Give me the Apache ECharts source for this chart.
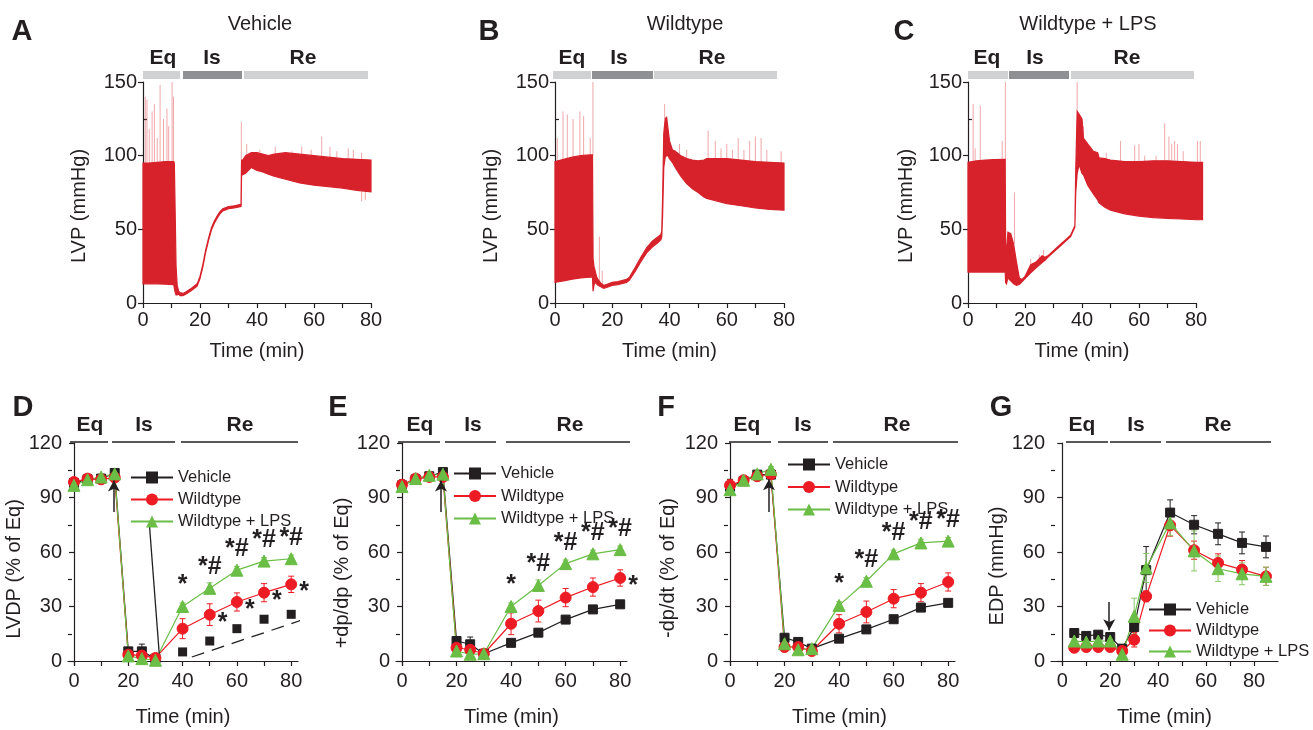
<!DOCTYPE html>
<html>
<head>
<meta charset="utf-8">
<title>LVP traces and recovery</title>
<script src="https://cdn.jsdelivr.net/npm/echarts@6.0.0/dist/echarts.min.js"></script>
<style>
  html, body { margin: 0; padding: 0; background: #fff; }
  #chart { width: 1313px; height: 730px; }
</style>
</head>
<body>
<div id="chart"></div>
<script>
// ---- LVP traces (A-C): [time, lower envelope, upper envelope]
const traceA = [
  [0, 13, 95], [2, 13, 95], [5, 13, 95.5], [8, 12.8, 96], [10.8, 12.5, 96], [11.0, 10, 95],
  [11.3, 7, 60], [11.6, 5.5, 25], [12, 5.5, 12], [12.5, 6, 8], [13, 5, 7], [14, 5, 6.5],
  [15, 6, 7.5], [17, 8.5, 10], [19, 11.5, 13], [20, 16.5, 18], [21, 24.5, 26], [22, 34.5, 36],
  [23, 42.5, 44], [24, 49.5, 51], [25, 54, 55.5], [26, 57.5, 59], [27, 60.5, 62], [28, 62.5, 64],
  [30, 64, 65.5], [32, 64.5, 66], [34.4, 65.5, 67], [34.6, 88, 97], [35, 87, 97], [36, 88, 100],
  [38, 92, 102], [40, 90, 102], [42, 89, 101], [44, 87.5, 100], [46, 86, 101], [50, 84, 102],
  [55, 81.5, 101], [60, 80, 100], [65, 79, 99], [70, 78, 98], [75, 76.5, 97.5], [80, 75.5, 97]
];
const traceB = [
  [0, 14, 96], [3, 15, 97.5], [6, 16.2, 99], [9, 17, 100], [12, 17.5, 100.5], [13.1, 17.5, 100.5],
  [13.3, 8, 30], [13.6, 12, 25], [14, 14, 22], [14.5, 13, 18], [15, 12, 16], [16, 11, 13.5],
  [17, 10, 12], [18, 10.5, 12.5], [20, 12, 14], [22, 12.5, 14.5], [24, 13.5, 15.5], [25, 14, 16],
  [26, 15.5, 17.5], [28, 21.5, 24], [30, 28, 31], [32, 34, 37.5], [34, 38, 42], [36, 41, 45],
  [37, 43, 46.5], [37.3, 45, 49], [37.6, 60, 72], [38, 92, 115], [38.5, 99, 125], [39, 100, 126],
  [39.5, 100, 118], [40, 98, 110], [41, 95.5, 104], [42, 92, 103], [44, 86, 100], [46, 81, 98],
  [48, 77.5, 97], [50, 75, 96.5], [52, 72, 97], [53, 71, 98], [55, 70, 98], [60, 67.5, 98],
  [65, 66, 97], [70, 64.5, 96], [75, 63.5, 95.5], [80, 63, 95]
];
const traceC = [
  [0, 21, 95.5], [3, 21, 96.5], [6, 21, 97], [9, 21, 97.3], [12.8, 21, 97.5], [13.05, 21, 97.5],
  [13.2, 14, 40], [13.5, 13, 35], [14, 17, 48], [15, 15, 47], [16, 13, 40], [17, 12, 28],
  [18, 12.5, 17], [19, 14.5, 16], [20, 16.5, 18], [22, 20.5, 26], [24, 24, 28], [26, 27.5, 32],
  [27, 29, 31], [28, 31, 32], [30, 34.5, 35.5], [32, 38, 39], [34, 41.5, 42.5], [36, 45, 46],
  [37.5, 51.5, 52.5], [37.8, 75, 90], [38.3, 88, 130], [39, 94, 128], [40, 88, 125], [40.5, 87, 112],
  [42, 80, 108], [44, 74, 103], [45.5, 70, 102], [46, 68, 98.5], [48, 65, 98], [50, 63, 97],
  [55, 60.5, 96], [60, 59, 96], [65, 58, 96.5], [70, 57.5, 96.5], [75, 57, 96], [80, 56.5, 95.5],
  [82.3, 56.5, 95.5]
];
// single beats that stick out of the band: [time, from, to]
const spikesA = [
  [0.8, 95, 140], [1.4, 95, 138], [2.2, 95, 118], [3.2, 95, 130], [4, 95, 135], [5, 95, 112],
  [6, 95, 148], [7.2, 95, 125], [8.4, 96, 132], [9, 96, 120], [10.2, 96, 150], [10.7, 96, 140],
  [34.5, 66, 123], [36.4, 100, 108], [41, 102, 104], [46.4, 101, 106], [52.2, 102, 103],
  [55.7, 101, 106], [59, 100, 104], [62.7, 100, 113], [65.6, 99, 106], [68, 98, 103],
  [72, 98, 105], [73.8, 97.5, 104], [76.7, 97.5, 102], [76.7, 76, 69], [78, 76, 70]
];
const spikesB = [
  [0.8, 96, 112], [2.8, 97, 130], [4.3, 98, 128], [6.3, 99, 125], [8.7, 100, 130], [10, 100, 127],
  [12.3, 100.5, 112], [13.25, 100, 150], [15.5, 14, 45], [16.5, 12, 22], [38.3, 125, 135],
  [43.5, 101, 108], [46, 98, 104], [53.5, 98, 117], [56, 98, 110], [58, 98, 105], [60, 98, 108],
  [62, 98, 104], [64, 97, 112], [66, 97, 104], [68, 96.5, 110], [70, 96, 113], [72, 96, 112],
  [74, 95.5, 104], [79, 95, 103]
];
const spikesC = [
  [1.8, 96, 135], [2.5, 96, 105], [4.3, 96.5, 134], [12, 97.5, 110], [13.1, 97.5, 150],
  [16.3, 40, 75], [22, 26, 30], [25, 30, 33], [26.5, 31, 36], [38.3, 130, 150], [40.5, 112, 120],
  [48.5, 98, 102], [53.5, 96, 110], [58.5, 96, 107], [60, 96, 108], [62, 96, 100], [66, 96.5, 100],
  [69, 96.5, 122], [70.5, 96.5, 113], [71.5, 96.5, 108], [72.5, 96.5, 110], [73.5, 96.5, 108],
  [75.5, 96, 103], [80.5, 95.5, 110], [81.5, 95.5, 110]
];

// ---- D-F: percent of Eq, sampled at these minutes
const timeDEF = [0, 5, 10, 15, 20, 25, 30, 40, 50, 60, 70, 80];

const lvdpVeh = [98, 100, 100.4, 103.5, 5.3, 5.3, 1.3, 5, 11, 17.8, 23, 25.7];
const lvdpVehErr = [3, 1, 1.5, 1.5, 2, 4, 1, 1, 1, 1, 1, 1];
const lvdpWt = [98.5, 100.4, 100, 101, 3.5, 3, 1.7, 17.8, 25.5, 32.5, 37.6, 42.2];
const lvdpWtErr = [2, 1.5, 1.5, 2, 2, 2, 1.5, 5.5, 6, 5, 5, 4.5];
const lvdpLps = [96.7, 99.8, 101.3, 103, 2.8, 1.3, 0.4, 30, 40, 50, 55, 56.3];
const lvdpLpsErr = [2, 1.5, 1.5, 1.5, 2, 2, 1.5, 2, 3, 2, 2, 2];
const lvdpLpsSig = ['', '', '', '', '', '', '', '*', '*#', '*#', '*#', '*#'];
const lvdpWtSig = ['', '', '', '', '', '', '', '', '*', '*', '*', '*'];

const pdpVeh = [96.7, 100, 101.7, 104, 11, 9.2, 4, 10, 15.6, 22.8, 28.4, 31.2];
const pdpVehErr = [3, 1, 1, 1, 2, 4, 1, 1, 1, 1, 1, 1];
const pdpWt = [97, 100.4, 101.3, 101.3, 7.3, 6.2, 4, 20.5, 27.5, 34.9, 40.7, 45.7];
const pdpWtErr = [2, 1.5, 1.5, 2, 2, 2, 1.5, 6, 6, 5, 5, 4.5];
const pdpLps = [96, 100.4, 102.2, 102.8, 5.5, 3.7, 4, 30, 41.6, 53.6, 59, 61.3];
const pdpLpsErr = [2, 1.5, 1.5, 1.5, 2, 2, 1.5, 2, 3, 2, 2, 2];
const pdpLpsSig = ['', '', '', '', '', '', '', '*', '*#', '*#', '*#', '*#'];
const pdpWtSig = ['', '', '', '', '', '', '', '', '', '', '', '*'];

const ndpVeh = [96, 99, 102.6, 102.6, 12.8, 10.5, 6.8, 12.3, 17.4, 23, 29.4, 32];
const ndpVehErr = [4, 1, 1, 1, 2, 2, 1, 1, 1, 1, 1, 1];
const ndpWt = [96.7, 99.5, 101.7, 102.8, 7.7, 7.7, 5.5, 20.5, 27, 34.3, 37.6, 43.5];
const ndpWtErr = [3, 1.5, 1.5, 2, 2, 2, 1.5, 5, 6, 5, 5, 5];
const ndpLps = [94.3, 99.5, 103, 105.5, 9.5, 6.2, 6.8, 30.6, 43.9, 59, 65, 66];
const ndpLpsErr = [2, 1.5, 1.5, 1.5, 2, 2, 1.5, 2, 2, 2, 2, 2];
const ndpLpsSig = ['', '', '', '', '', '', '', '*', '*#', '*#', '*#', '*#'];

// ---- G: EDP in mmHg
const timeG = [5, 10, 15, 20, 25, 30, 35, 45, 55, 65, 75, 85];
const edpVeh = [15.4, 13.8, 14.5, 13.2, 6.8, 18.7, 50, 81.7, 75, 70, 65, 62.8];
const edpVehErr = [1.5, 1.5, 1.5, 1.5, 2, 4, 13, 7, 5, 6, 6, 6];
const edpWt = [7.3, 7.7, 7.7, 7.7, 5.5, 11.7, 35.6, 74.7, 61, 54, 50.3, 46.6];
const edpWtErr = [1.5, 1.5, 1.5, 1.5, 2, 4, 3, 6, 5, 5, 5, 5];
const edpLps = [11, 10.5, 11, 11, 3.7, 24.6, 51.2, 76, 60.6, 50.8, 48, 46.6];
const edpLpsErr = [1.5, 1.5, 1.5, 1.5, 3, 10, 8, 7, 11, 7, 6, 5];

// perfusion-stop arrows [[x, from], [x, to]] and the stray strokes in D
const arrowD = [[14.7, 82], [14.7, 99.4]];
const arrowE = [[14.3, 82], [14.3, 99.4]];
const arrowF = [[14.3, 82], [14.3, 100]];
const arrowG = [[19.6, 32.5], [19.6, 16.9]];
const strayD1 = [[27.8, 74.7], [31.4, 4]];
const strayD2 = [[43.4, 2.2], [88.8, 25]];

const groupNames = ['Vehicle', 'Wildtype', 'Wildtype + LPS'];

// ------------------------------------------------------------------
const FONT = 'Liberation Sans, Arial, sans-serif';
const INK = '#231f20';
const TRACE = '#d7222b';
const SPIKE = 'rgba(222, 60, 66, 0.45)';
const VEH = '#231f20', WT = '#ed1c24', LPS = '#6abd45';

const chart = echarts.init(document.getElementById('chart'), null, { renderer: 'canvas' });

const grids = [
  { left: 143, top: 82, width: 228, height: 221 },
  { left: 555, top: 82, width: 229, height: 221 },
  { left: 968, top: 82, width: 228, height: 221 },
  { left: 68, top: 443, width: 230, height: 222 },
  { left: 396, top: 443, width: 231, height: 222 },
  { left: 724, top: 443, width: 231, height: 222 },
  { left: 1051, top: 443, width: 227, height: 222 }
];
const xRange = [[0, 80], [0, 80], [0, 80], [-2.2, 82.5], [-2.2, 82.5], [-2.2, 82.5], [-4.7, 90]];
const yNames = ['LVP (mmHg)', 'LVP (mmHg)', 'LVP (mmHg)', 'LVDP (% of Eq)', '+dp/dp (% of Eq)', '-dp/dt (% of Eq)', 'EDP (mmHg)'];
const yNameGap = [54, 54, 52, 35, 42, 46, 42];
const yNameShift = [27, 27, 27, 30, 38, 28, 24];

const xTicks = [0, 10, 20, 30, 40, 50, 60, 70, 80];
const xLabels = [0, 20, 40, 60, 80];

const nameText = { color: INK, fontSize: 20, fontFamily: FONT };
const axisLine = { show: true, lineStyle: { color: INK, width: 1.2 } };
const tickText = { color: INK, fontSize: 20, fontFamily: FONT };

const xAxes = grids.map(function (g, i) {
  const top = i < 3;
  return {
    type: 'value', gridIndex: i, min: xRange[i][0], max: xRange[i][1],
    name: 'Time (min)', nameLocation: 'middle', nameGap: top ? 38 : 42,
    nameTextStyle: nameText,
    axisLine: axisLine,
    axisTick: { show: true, customValues: xTicks, length: 5, lineStyle: { color: INK, width: 1.2 } },
    axisLabel: Object.assign({ customValues: xLabels, margin: top ? 7 : 6 }, tickText),
    splitLine: { show: false }
  };
});

const yAxes = [];
grids.forEach(function (g, i) {
  const top = i < 3;
  const major = top ? [0, 50, 100, 150] : [0, 30, 60, 90, 120];
  yAxes.push({
    type: 'value', gridIndex: i, position: 'left',
    min: top ? 0 : -2.2, max: top ? 150 : 120,
    name: yNames[i], nameLocation: 'middle', nameGap: yNameGap[i], nameRotate: 90,
    nameTextStyle: Object.assign({ padding: [0, yNameShift[i], 0, 0] }, nameText),
    axisLine: axisLine,
    axisTick: { show: true, customValues: major, length: 5, lineStyle: { color: INK, width: 1.2 } },
    axisLabel: Object.assign({ customValues: major, margin: 6 }, tickText),
    splitLine: { show: false }
  });
});
grids.forEach(function (g, i) {
  const top = i < 3;
  yAxes.push({
    type: 'value', gridIndex: i, position: 'left',
    min: top ? 0 : -2.2, max: top ? 150 : 120,
    axisLine: { show: false },
    axisTick: { show: true, inside: true, customValues: top ? [25, 75, 125] : [15, 45, 75, 105], length: 4, lineStyle: { color: INK, width: 1.2 } },
    axisLabel: { show: false },
    splitLine: { show: false }
  });
});

function bandRender(trace) {
  return function (params, api) {
    if (params.dataIndex !== 0) return null;
    const upper = trace.map(function (r) { return api.coord([r[0], r[2]]); });
    const lower = trace.map(function (r) { return api.coord([r[0], r[1]]); }).reverse();
    return {
      type: 'polygon',
      shape: { points: upper.concat(lower) },
      style: { fill: TRACE, stroke: TRACE, lineWidth: 1.2 }
    };
  };
}

function spikeRender(params, api) {
  const a = api.coord([api.value(0), api.value(1)]);
  const b = api.coord([api.value(0), api.value(2)]);
  return { type: 'line', shape: { x1: a[0], y1: a[1], x2: b[0], y2: b[1] }, style: { stroke: SPIKE, lineWidth: 1 } };
}

function errRender(params, api) {
  const x = api.value(0), y = api.value(1), e = api.value(2);
  const hi = api.coord([x, y + e]), lo = api.coord([x, y - e]);
  const w = 3;
  const style = { stroke: api.visual('color'), lineWidth: 1 };
  return {
    type: 'group', children: [
      { type: 'line', shape: { x1: hi[0], y1: hi[1], x2: lo[0], y2: lo[1] }, style: style },
      { type: 'line', shape: { x1: hi[0] - w, y1: hi[1], x2: hi[0] + w, y2: hi[1] }, style: style },
      { type: 'line', shape: { x1: lo[0] - w, y1: lo[1], x2: lo[0] + w, y2: lo[1] }, style: style }
    ]
  };
}

function pts(xs, ys) { return xs.map(function (x, i) { return [x, ys[i]]; }); }
function errPts(xs, ys, es) { return xs.map(function (x, i) { return [x, ys[i], es[i]]; }); }

const series = [];

// top traces
[[traceA, spikesA], [traceB, spikesB], [traceC, spikesC]].forEach(function (p, i) {
  series.push({
    type: 'custom', xAxisIndex: i, yAxisIndex: i, silent: true, clip: false, z: 2,
    renderItem: bandRender(p[0]), data: p[0], encode: { x: 0, y: [1, 2] }
  });
  series.push({
    type: 'custom', xAxisIndex: i, yAxisIndex: i, silent: true, clip: false, z: 1,
    renderItem: spikeRender, data: p[1], encode: { x: 0, y: [1, 2] }
  });
});

const marks = {
  Vehicle: { symbol: 'rect', size: 9, color: VEH, err: VEH },
  Wildtype: { symbol: 'circle', size: 11, color: WT, err: WT },
  'Wildtype + LPS': { symbol: 'triangle', size: 12, color: LPS, err: '#86c866' }
};

function addGroup(gi, name, times, vals, errs, opts) {
  const m = marks[name];
  opts = opts || {};
  series.push({
    type: 'custom', xAxisIndex: gi, yAxisIndex: gi, silent: true, clip: false, z: 2,
    itemStyle: { color: m.err },
    renderItem: errRender, data: errPts(times, vals, errs), encode: { x: 0, y: [1, 2] }
  });
  const data = pts(times, vals);
  const lineData = opts.lineUntil ? data.slice(0, opts.lineUntil) : data;
  const s = {
    name: name, type: 'line', xAxisIndex: gi, yAxisIndex: gi, z: 3, clip: false,
    symbol: m.symbol, symbolSize: m.size, showSymbol: true,
    itemStyle: { color: m.color, borderColor: m.color },
    lineStyle: { color: m.color, width: 1.2 },
    data: lineData
  };
  if (opts.sig) {
    s.label = {
      show: true, position: opts.sigPos, offset: opts.sigOffset || [0, 0], distance: 2,
      formatter: function (p) { return opts.sig[p.dataIndex] || ''; },
      color: INK, fontSize: 25, fontWeight: 'bold', fontFamily: FONT
    };
  }
  if (opts.arrow) {
    s.markLine = {
      silent: true, animation: false, symbol: ['none', 'arrow'], symbolSize: [9, 11],
      label: { show: false },
      lineStyle: { color: INK, width: 1.5, type: 'solid' },
      data: [[{ coord: opts.arrow[0] }, { coord: opts.arrow[1] }]]
    };
  }
  series.push(s);
  if (opts.lineUntil) {
    series.push({
      name: name, type: 'scatter', xAxisIndex: gi, yAxisIndex: gi, z: 3,
      symbol: m.symbol, symbolSize: m.size,
      itemStyle: { color: m.color, opacity: 1 },
      data: data.slice(opts.lineUntil)
    });
  }
}

function addStray(gi, line, dashed) {
  series.push({
    type: 'line', xAxisIndex: gi, yAxisIndex: gi, z: 3, clip: false, silent: true,
    symbol: 'none', lineStyle: { color: INK, width: 1.3, type: dashed ? [13, 8] : 'solid' },
    data: line
  });
}

// D
addGroup(3, 'Vehicle', timeDEF, lvdpVeh, lvdpVehErr, { lineUntil: 7, arrow: arrowD });
addGroup(3, 'Wildtype', timeDEF, lvdpWt, lvdpWtErr, { sig: lvdpWtSig, sigPos: 'right', sigOffset: [0, 8] });
addGroup(3, 'Wildtype + LPS', timeDEF, lvdpLps, lvdpLpsErr, { sig: lvdpLpsSig, sigPos: 'top' });
addStray(3, strayD1, false);
addStray(3, strayD2, true);
// E
addGroup(4, 'Vehicle', timeDEF, pdpVeh, pdpVehErr, { arrow: arrowE });
addGroup(4, 'Wildtype', timeDEF, pdpWt, pdpWtErr, { sig: pdpWtSig, sigPos: 'right', sigOffset: [0, 8] });
addGroup(4, 'Wildtype + LPS', timeDEF, pdpLps, pdpLpsErr, { sig: pdpLpsSig, sigPos: 'top' });
// F
addGroup(5, 'Vehicle', timeDEF, ndpVeh, ndpVehErr, { arrow: arrowF });
addGroup(5, 'Wildtype', timeDEF, ndpWt, ndpWtErr);
addGroup(5, 'Wildtype + LPS', timeDEF, ndpLps, ndpLpsErr, { sig: ndpLpsSig, sigPos: 'top' });
// G
addGroup(6, 'Vehicle', timeG, edpVeh, edpVehErr, { arrow: arrowG });
addGroup(6, 'Wildtype', timeG, edpWt, edpWtErr);
addGroup(6, 'Wildtype + LPS', timeG, edpLps, edpLpsErr);

function legendAt(left, top, gap) {
  return {
    data: groupNames, orient: 'vertical', left: left, top: top, padding: 0,
    itemWidth: 42, itemHeight: 15, itemGap: gap, selectedMode: false,
    textStyle: { color: INK, fontSize: 16.5, fontFamily: FONT, lineHeight: 16 }
  };
}

// labels, phase bars and lines (layout only)
const graphics = [];
function txt(s, x, y, size, bold) {
  graphics.push({
    type: 'text', x: x, y: y, silent: true,
    style: { text: s, fill: INK, font: (bold ? 'bold ' : '') + size + 'px ' + FONT, textAlign: 'center', textVerticalAlign: 'middle' }
  });
}
function bar(x1, x2, y, h, color) {
  graphics.push({ type: 'rect', silent: true, shape: { x: x1, y: y, width: x2 - x1, height: h }, style: { fill: color } });
}
function hline(x1, x2, y) {
  graphics.push({ type: 'line', silent: true, shape: { x1: x1, y1: y, x2: x2, y2: y }, style: { stroke: INK, lineWidth: 1.3 } });
}
const LIGHT = '#cfd1d3', DARK = '#8e9094';

[['A', 22, 32], ['B', 489, 32], ['C', 904, 32], ['D', 23, 408], ['E', 338, 408], ['F', 666, 408], ['G', 1001, 408]]
  .forEach(function (l) { txt(l[0], l[1], l[2], 29, true); });
[['Vehicle', 260], ['Wildtype', 685], ['Wildtype + LPS', 1088]]
  .forEach(function (t) { txt(t[0], t[1], 24, 20, false); });

const topPhases = [
  [[163, 212, 303], [[143, 180], [183, 242], [244, 368]]],
  [[572, 619, 712], [[553, 591], [592, 653], [654, 777]]],
  [[987, 1035, 1127], [[968, 1008], [1009, 1069], [1071, 1194]]]
];
topPhases.forEach(function (p) {
  txt('Eq', p[0][0], 58, 21, true); txt('Is', p[0][1], 58, 21, true); txt('Re', p[0][2], 58, 21, true);
  bar(p[1][0][0], p[1][0][1], 71, 8, LIGHT);
  bar(p[1][1][0], p[1][1][1], 71, 8, DARK);
  bar(p[1][2][0], p[1][2][1], 71, 8, LIGHT);
});
const bottomPhases = [
  [[90, 144, 240], [[70, 108], [112, 175], [181, 298]]],
  [[420, 473, 570], [[398, 440], [445, 496], [506, 630]]],
  [[747, 803, 897], [[729, 771], [778, 828], [833, 958]]],
  [[1082, 1136, 1218], [[1066, 1108], [1110, 1161], [1166, 1271]]]
];
bottomPhases.forEach(function (p) {
  txt('Eq', p[0][0], 425, 21, true); txt('Is', p[0][1], 425, 21, true); txt('Re', p[0][2], 425, 21, true);
  p[1].forEach(function (s) { hline(s[0], s[1], 442); });
});

chart.setOption({
  animation: false,
  backgroundColor: '#fff',
  textStyle: { fontFamily: FONT },
  grid: grids.map(function (g) { return Object.assign({ outerBoundsMode: 'none', containLabel: false }, g); }),
  xAxis: xAxes,
  yAxis: yAxes,
  legend: [legendAt(130, 469, 5), legendAt(453, 465, 5.5), legendAt(787, 456, 5.5), legendAt(1148, 601, 4)],
  graphic: graphics,
  series: series
});

window.addEventListener('resize', function () { chart.resize(); });
</script>
</body>
</html>
